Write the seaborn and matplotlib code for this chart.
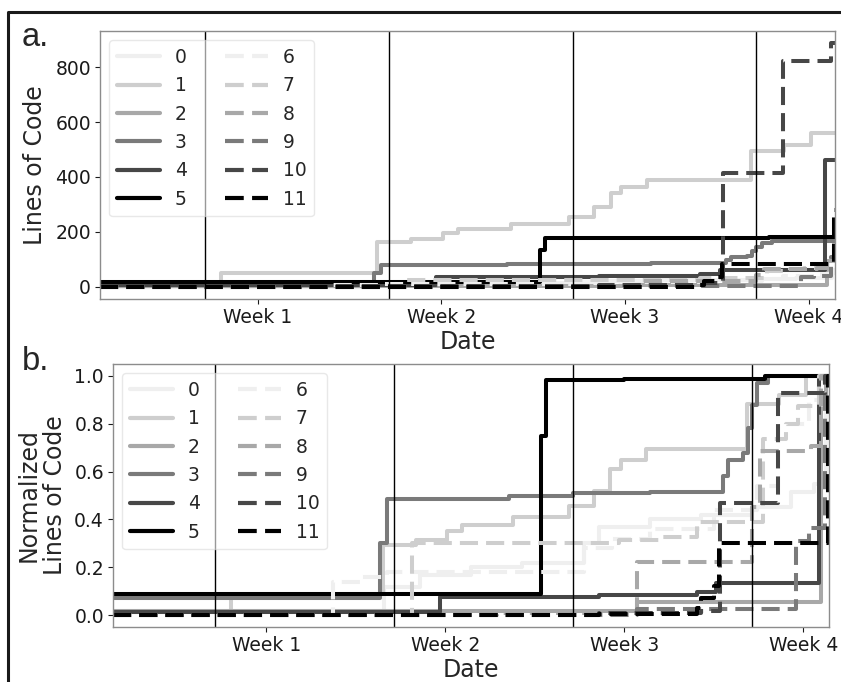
import numpy as np
import pandas as pd
import matplotlib
matplotlib.use("Agg")
import matplotlib.pyplot as plt
from matplotlib.lines import Line2D
import seaborn as sns

# ---------------- data (days since start, cumulative lines of code) ----------------
S0_DAYS = [1, 11.6, 13, 15, 17, 19.4, 20, 22, 24, 26, 27.5, 28.4, 28.9]
S0_LOC = [1, 7, 10, 12, 13, 18, 22, 24, 25, 27, 31, 33, 60]
S1_DAYS = [1, 5.6, 11.55, 12.85, 14.05, 14.65, 16.65, 18.85, 19.8, 20.45, 20.85, 21.85, 25.8, 27.05, 28.1]
S1_LOC = [8, 50, 164, 175, 196, 211, 229, 255, 291, 342, 364, 389, 495, 516, 560]
S2_DAYS = [1, 21.5, 28.7, 28.9]
S2_LOC = [2, 6, 95, 110]
S3_DAYS = [1, 11.45, 11.7, 16.5, 19, 22, 24.85, 25.05, 25.65, 25.85, 26.0, 26.2, 26.6]
S3_LOC = [12, 50, 80, 82, 84, 85, 96, 107, 112, 129, 145, 160, 165]
S4_DAYS = [1, 13.8, 20, 23.85, 24.6, 28.6]
S4_LOC = [5, 35, 38, 45, 62, 462]
S5_DAYS = [1, 17.75, 17.95, 21, 26.5]
S5_LOC = [16, 135, 177, 178, 180]
S6_DAYS = [1, 9.6, 10.7, 11.7, 19.4, 20.5, 22, 24.5, 26.2, 27, 28.2, 28.8]
S6_LOC = [0, 7, 8, 9, 14, 16, 18, 22, 27, 40, 45, 50]
S7_DAYS = [1, 12.7, 20.8, 22.4, 23.85, 26.4, 27.3, 27.8, 28.6]
S7_LOC = [0, 24, 25, 26, 31, 59, 64, 70, 80]
S8_DAYS = [1, 16, 21.5, 26.0, 26.3, 28.3, 28.7]
S8_LOC = [0, 1, 21, 43, 65, 67, 95]
S9_DAYS = [1, 21.5, 27.7, 28.2, 28.85]
S9_LOC = [0, 3, 34, 40, 110]
S10_DAYS = [1, 20, 24.0, 24.72, 27.0, 28.84]
S10_LOC = [2, 6, 15, 415, 822, 887]
S11_DAYS = [1, 20, 23.85, 24.0, 24.5, 24.7, 28.95]
S11_LOC = [0, 1, 8, 20, 34, 84, 280]

SERIES_NAMES = ["0", "1", "2", "3", "4", "5", "6", "7", "8", "9", "10", "11"]
WEEK_TICKS = [7, 14, 21, 28]
WEEK_LABELS = ["Week 1", "Week 2", "Week 3", "Week 4"]
WEEK_LINES = [5, 12, 19, 26]
X_START, X_END = 1, 29

ALL_DAYS = [S0_DAYS, S1_DAYS, S2_DAYS, S3_DAYS, S4_DAYS, S5_DAYS,
            S6_DAYS, S7_DAYS, S8_DAYS, S9_DAYS, S10_DAYS, S11_DAYS]
ALL_LOC = [S0_LOC, S1_LOC, S2_LOC, S3_LOC, S4_LOC, S5_LOC,
           S6_LOC, S7_LOC, S8_LOC, S9_LOC, S10_LOC, S11_LOC]

GREYS = ["#efefef", "#cecece", "#a8a8a8", "#7a7a7a", "#474747", "#000000"]

# ---------------- style ----------------
sns.set_style("white", {"axes.edgecolor": "0.55", "xtick.bottom": True, "ytick.left": True,
                        "xtick.color": "0.1", "ytick.color": "0.1"})
plt.rcParams["font.family"] = ["DejaVu Sans"]
plt.rcParams["xtick.major.size"] = 3.5
plt.rcParams["ytick.major.size"] = 3.5
plt.rcParams["xtick.major.width"] = 0.8
plt.rcParams["ytick.major.width"] = 0.8

W, H = 841, 682
fig = plt.figure(figsize=(W / 100, H / 100), dpi=100)
fig.patch.set_facecolor("white")

def fpos(left, top, right, bottom):
    return [left / W, 1 - bottom / H, (right - left) / W, (bottom - top) / H]

ax_a = fig.add_axes(fpos(100, 31, 835, 299))
ax_b = fig.add_axes(fpos(113, 364, 829, 627))

def draw(ax, normalized):
    for i, (days, loc) in enumerate(zip(ALL_DAYS, ALL_LOC)):
        d = list(days) + [X_END]
        v = np.array(list(loc) + [loc[-1]], dtype=float)
        if normalized:
            v = v / v.max()
        df = pd.DataFrame({"Date": d, "val": v})
        sns.lineplot(data=df, x="Date", y="val", ax=ax, color=GREYS[i % 6],
                     linestyle="-" if i < 6 else (0, (4.5, 2)),
                     lw=2.9, drawstyle="steps-post", estimator=None, sort=False,
                     label=SERIES_NAMES[i])
    for d in WEEK_LINES:
        ax.axvline(d, color="black", lw=1)
    ax.set_xlim(X_START, X_END)
    ax.set_xticks(WEEK_TICKS)
    ax.set_xticklabels(WEEK_LABELS)
    ax.tick_params(labelsize=13.5, pad=3)
    ax.set_xlabel("Date", fontsize=17, labelpad=2)
    for s in ax.spines.values():
        s.set_linewidth(1.0)
    leg = ax.legend(ncol=2, loc="upper left", fontsize=13.5, handlelength=2.3,
                    framealpha=0.6, edgecolor="0.85", fancybox=True,
                    columnspacing=2.0, labelspacing=0.5)
    for line in leg.get_lines():
        line.set_linewidth(3.0)

draw(ax_a, False)
ax_a.set_yticks([0, 200, 400, 600, 800])
ax_a.set_ylabel("Lines of Code", fontsize=17, labelpad=6)

draw(ax_b, True)
ax_b.set_ylim(-0.05, 1.05)
ax_b.set_yticks([0.0, 0.2, 0.4, 0.6, 0.8, 1.0])
ax_b.set_yticklabels(["0.0", "0.2", "0.4", "0.6", "0.8", "1.0"])
ax_b.set_ylabel("Normalized\nLines of Code", fontsize=17, linespacing=1.15, labelpad=5)

fig.text(22 / W, 1 - 46 / H, "a.", fontsize=23.5, family=["Liberation Sans", "DejaVu Sans"], va="baseline")
fig.text(22 / W, 1 - 370 / H, "b.", fontsize=23.5, family=["Liberation Sans", "DejaVu Sans"], va="baseline")

fig.add_artist(Line2D([8 / W, 8 / W, 1.0], [0.0, 1 - 12 / H, 1 - 12 / H],
                      transform=fig.transFigure, color="#1a1a1a", lw=2.2))

fig.savefig("out.png", dpi=100)
